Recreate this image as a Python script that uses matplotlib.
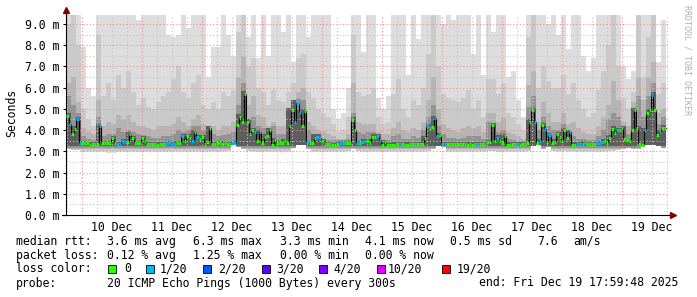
import numpy as np
from matplotlib import pyplot as plt, patches

# ---- data (x in days since 9 Dec 00:00, y in ms) ----
start_day = 0.7333
day_labels = ['10 Dec', '11 Dec', '12 Dec', '13 Dec', '14 Dec',
              '15 Dec', '16 Dec', '17 Dec', '18 Dec', '19 Dec']
label_days = [1.5, 2.5, 3.5, 4.5, 5.5, 6.5, 7.5, 8.5, 9.5, 10.5]
ytick_values = [0, 1, 2, 3, 4, 5, 6, 7, 8, 9]
ytick_labels = ['0.0 m', '1.0 m', '2.0 m', '3.0 m', '4.0 m',
                '5.0 m', '6.0 m', '7.0 m', '8.0 m', '9.0 m']

# hourly median rtt
median_ms = [
    4.68, 4.30, 3.80, 4.07, 4.50, 3.40, 3.40, 3.40, 3.38, 3.29, 3.34, 3.34, 3.34, 4.21, 3.38, 3.38, 3.40, 3.40, 3.65, 3.40,
    3.35, 3.35, 3.50, 3.46, 3.46, 3.80, 3.62, 3.38, 3.38, 3.38, 3.64, 3.50, 3.33, 3.33, 3.33, 3.33, 3.32, 3.33, 3.33, 3.33,
    3.38, 3.38, 3.36, 3.36, 3.38, 3.38, 3.70, 3.50, 3.70, 3.65, 3.50, 3.89, 3.67, 3.57, 3.68, 3.34, 3.46, 4.12, 3.35, 3.35,
    3.38, 3.38, 3.35, 3.38, 3.35, 3.35, 3.38, 3.38, 4.24, 4.63, 4.37, 5.70, 4.40, 3.80, 3.99, 3.90, 3.50, 3.90, 3.38, 3.68,
    3.70, 4.02, 3.32, 3.55, 3.40, 3.40, 3.40, 3.50, 3.40, 4.18, 4.96, 4.40, 5.27, 4.84, 4.20, 4.90, 3.43, 3.38, 3.38, 3.62,
    3.68, 3.65, 3.50, 3.34, 3.34, 3.34, 3.30, 3.29, 3.34, 3.38, 3.38, 3.38, 3.38, 3.40, 4.49, 4.02, 3.40, 3.40, 3.45, 3.50,
    3.50, 3.40, 3.68, 3.68, 3.70, 3.52, 3.32, 3.43, 3.30, 3.30, 3.30, 3.32, 3.35, 3.33, 3.33, 3.30, 3.32, 3.35, 3.35, 3.35,
    3.35, 3.35, 3.35, 3.62, 4.18, 4.12, 4.15, 4.55, 3.70, 3.75, 3.35, 3.35, 3.34, 3.34, 3.36, 3.34, 3.34, 3.34, 3.34, 3.36,
    3.32, 3.34, 3.32, 3.36, 3.33, 3.34, 3.36, 3.35, 3.43, 3.43, 4.24, 3.50, 3.65, 3.50, 3.38, 3.70, 3.32, 3.32, 3.34, 3.34,
    3.34, 3.32, 3.34, 3.34, 3.40, 4.40, 4.96, 4.37, 3.38, 3.50, 4.24, 4.05, 3.43, 3.75, 3.41, 3.46, 3.82, 3.68, 3.50, 4.02,
    3.62, 3.92, 3.32, 3.32, 3.34, 3.34, 3.34, 3.38, 3.36, 3.34, 3.34, 3.34, 3.38, 3.40, 3.46, 3.50, 3.41, 3.65, 4.07, 3.84,
    4.02, 4.00, 4.10, 3.57, 3.51, 3.47, 3.98, 4.96, 4.10, 3.33, 3.29, 3.99, 4.80, 4.93, 5.67, 4.96, 3.78, 3.90, 4.12, 4.12,
]
# hours with 1/20 packet loss (all others 0)
loss_1_of_20 = [1, 4, 5, 13, 20, 21, 22, 23, 40, 41, 42, 43, 46, 50, 52, 66, 67, 75, 77,
                91, 92, 93, 96, 100, 101, 109, 110, 116, 118, 119, 124, 125, 133, 144, 147,
                148, 150, 151, 164, 172, 180, 187, 189, 191, 193, 201, 204, 205, 206, 212,
                213, 214, 220, 231, 234, 237]

# 2-hourly smoke (ping spread), outer band to inner band
smoke_top1 = [
    9.5, 9.5, 9.5, 7.9, 6.0, 5.6, 9.5, 9.5, 9.5, 9.5, 9.5, 9.5, 9.5, 9.5, 9.2, 9.5, 9.5, 9.5, 9.5, 9.5,
    8.5, 8.4, 8.5, 9.5, 8.8, 9.5, 9.5, 9.5, 6.5, 7.9, 7.9, 9.5, 8.5, 7.5, 9.5, 9.5, 8.4, 9.5, 7.4, 9.5,
    7.5, 9.5, 9.5, 8.6, 9.5, 7.2, 9.5, 9.5, 8.4, 9.5, 9.5, 9.5, 9.5, 5.0, 4.5, 4.8, 6.0, 9.5, 9.5, 7.7,
    9.5, 9.5, 5.5, 5.0, 5.6, 9.5, 9.5, 9.5, 6.6, 9.5, 8.3, 9.5, 9.5, 9.5, 9.5, 9.0, 9.5, 9.2, 9.5, 9.5,
    9.5, 7.6, 9.5, 6.6, 9.5, 8.6, 9.5, 9.5, 6.5, 6.8, 5.4, 4.6, 9.5, 9.5, 9.5, 9.5, 9.0, 9.5, 8.5, 9.5,
    7.8, 9.5, 9.5, 7.5, 6.8, 7.4, 9.5, 9.5, 9.5, 9.5, 9.5, 7.0, 6.4, 6.8, 9.5, 9.5, 9.5, 9.5, 7.2, 9.2,
]
smoke_top2 = [
    9.0, 9.5, 8.0, 5.0, 4.5, 4.2, 8.5, 5.6, 6.2, 5.4, 6.6, 6.0, 6.8, 5.8, 5.2, 5.5, 5.1, 5.0, 5.3, 5.6,
    5.8, 6.4, 7.0, 5.8, 5.5, 6.2, 6.6, 5.2, 5.0, 5.3, 5.0, 5.8, 5.6, 5.9, 8.6, 9.5, 7.0, 7.4, 6.0, 5.8,
    5.2, 5.9, 5.4, 5.3, 5.8, 6.2, 7.4, 7.6, 5.8, 5.5, 5.0, 4.8, 4.6, 4.3, 3.9, 4.0, 4.6, 8.5, 5.8, 5.6,
    5.7, 6.0, 4.6, 4.3, 4.4, 5.7, 6.4, 5.0, 4.6, 5.4, 5.2, 6.0, 7.6, 9.5, 7.0, 5.7, 5.5, 5.4, 5.3, 5.5,
    5.9, 5.0, 5.4, 4.6, 6.4, 6.4, 5.7, 6.2, 4.8, 4.6, 4.3, 4.0, 8.4, 9.5, 6.0, 7.0, 6.3, 6.0, 6.0, 6.6,
    5.7, 6.2, 5.4, 5.0, 4.6, 4.8, 5.9, 6.8, 8.0, 9.5, 7.0, 5.5, 5.0, 5.8, 9.5, 6.5, 8.4, 9.5, 5.7, 6.2,
]
smoke_top3 = [
    6.2, 6.5, 5.3, 4.1, 3.9, 3.8, 5.4, 4.2, 4.4, 4.3, 4.7, 4.5, 4.7, 4.4, 4.2, 4.2, 4.1, 4.0, 4.2, 4.2,
    4.2, 4.3, 4.6, 4.4, 4.2, 4.5, 4.7, 4.3, 4.2, 4.2, 4.0, 4.2, 4.2, 4.4, 6.5, 7.5, 5.2, 5.6, 4.7, 4.6,
    4.2, 4.4, 4.2, 4.2, 4.8, 5.3, 5.8, 6.0, 4.4, 4.2, 4.0, 3.9, 3.8, 3.7, 3.6, 3.6, 3.8, 6.2, 4.4, 4.3,
    4.3, 4.3, 3.9, 3.8, 3.8, 4.1, 4.4, 4.0, 3.9, 4.1, 4.0, 4.4, 5.4, 6.5, 5.0, 4.3, 4.1, 4.0, 3.9, 4.1,
    4.2, 4.1, 4.2, 3.9, 4.8, 4.8, 4.4, 4.6, 3.9, 3.8, 3.7, 3.6, 6.1, 6.8, 4.4, 5.3, 4.8, 4.4, 4.4, 4.8,
    4.3, 4.4, 4.1, 3.9, 3.8, 3.8, 4.2, 4.6, 5.2, 6.3, 5.4, 4.4, 4.2, 5.3, 6.5, 5.4, 6.5, 7.2, 4.8, 5.0,
]
smoke_top4 = [
    5.6, 5.2, 4.8, 3.7, 3.6, 3.55, 4.6, 3.7, 3.8, 3.8, 4.1, 3.9, 4.0, 3.9, 3.8, 3.75, 3.7, 3.65, 3.65, 3.7,
    3.7, 3.8, 4.0, 3.9, 4.0, 4.2, 4.2, 4.0, 4.2, 3.8, 3.7, 3.75, 3.8, 3.9, 5.2, 6.2, 4.5, 4.6, 4.2, 4.1,
    3.9, 4.2, 3.8, 3.8, 4.2, 5.1, 5.5, 5.4, 4.0, 3.8, 3.8, 3.6, 3.55, 3.55, 3.55, 3.55, 3.6, 4.8, 3.9, 3.8,
    3.9, 3.9, 3.6, 3.55, 3.55, 3.7, 3.8, 3.6, 3.6, 3.7, 3.65, 4.0, 4.6, 5.2, 4.2, 3.8, 3.65, 3.65, 3.6, 3.65,
    3.7, 3.7, 3.7, 3.6, 4.4, 4.2, 3.9, 4.0, 3.6, 3.55, 3.5, 3.5, 5.1, 5.6, 4.0, 4.6, 4.2, 4.0, 4.0, 4.3,
    3.9, 3.7, 3.6, 3.6, 3.55, 3.55, 3.7, 4.0, 4.5, 4.8, 4.6, 4.0, 3.8, 4.8, 5.6, 4.6, 5.6, 6.2, 4.3, 4.6,
]
smoke_top5 = [
    4.8, 4.2, 4.6, 3.5, 3.45, 3.45, 4.3, 3.5, 3.5, 3.7, 3.45, 3.6, 3.9, 3.7, 3.5, 3.7, 3.45, 3.45, 3.45, 3.45,
    3.5, 3.48, 3.5, 3.8, 3.8, 4.0, 3.78, 3.78, 4.2, 3.45, 3.5, 3.5, 3.45, 3.5, 4.75, 5.85, 4.5, 4.1, 4.0, 3.8,
    4.1, 3.65, 3.5, 3.6, 5.05, 5.4, 4.95, 5.0, 3.5, 3.8, 3.8, 3.6, 3.45, 3.4, 3.5, 3.5, 3.5, 4.6, 3.5, 3.6,
    3.6, 3.8, 3.8, 3.55, 3.4, 3.42, 3.45, 3.45, 3.45, 3.45, 3.45, 3.72, 4.3, 4.65, 3.85, 3.45, 3.45, 3.45, 3.45, 3.45,
    3.45, 3.45, 3.45, 3.45, 3.55, 4.35, 3.75, 3.8, 3.42, 3.45, 3.45, 3.45, 4.5, 5.05, 3.6, 4.35, 3.85, 3.56, 3.92, 4.1,
    4.0, 3.42, 3.45, 3.48, 3.46, 3.45, 3.5, 3.6, 3.75, 4.17, 4.1, 4.2, 3.6, 5.05, 4.2, 4.1, 5.0, 5.8, 4.0, 4.22,
]
smoke_low = [
    3.1, 3.05, 3.05, 2.95, 2.95, 2.95, 2.95, 2.95, 2.9, 2.9, 2.95, 2.95, 2.95, 2.95, 2.95, 2.95, 2.95, 2.95, 2.95, 2.95,
    2.95, 2.95, 2.95, 2.95, 2.95, 2.95, 2.95, 2.95, 2.95, 2.95, 2.95, 2.95, 3.0, 3.3, 3.2, 3.1, 3.0, 2.95, 2.95, 2.95,
    2.95, 2.95, 2.95, 2.95, 2.95, 3.15, 3.3, 3.3, 3.1, 2.95, 2.95, 2.95, 2.95, 2.95, 2.95, 2.95, 3.0, 3.1, 3.0, 2.95,
    2.95, 2.95, 2.95, 2.95, 2.95, 2.95, 2.95, 2.95, 2.95, 2.95, 2.95, 2.95, 3.0, 3.1, 3.25, 3.2, 2.95, 2.95, 2.95, 2.95,
    2.95, 2.95, 2.95, 2.95, 3.0, 3.0, 2.95, 2.95, 2.95, 2.95, 2.95, 2.95, 3.0, 3.25, 3.3, 3.1, 3.2, 3.0, 2.95, 3.0,
    2.95, 2.95, 2.95, 2.95, 2.95, 2.95, 2.95, 2.95, 3.0, 3.0, 3.05, 3.1, 3.15, 3.1, 3.1, 3.3, 3.3, 3.3, 3.25, 3.15,
]
band_floors = [3.03, 3.1, 3.17, 3.24]
band_colors = ['#cacaca', '#b4b4b4', '#939393', '#5e5e5e']

legend_rows = [
    [('median rtt:', 16), ('3.6 ms avg', 107), ('6.3 ms max', 193), ('3.3 ms min', 280),
     ('4.1 ms now', 365), ('0.5 ms sd', 450), ('7.6', 537), ('am/s', 573)],
    [('packet loss:', 16), ('0.12 % avg', 107), ('1.25 % max', 193), ('0.00 % min', 280),
     ('0.00 % now', 365)],
    [('loss color:', 16)],
    [('probe:', 16), ('20 ICMP Echo Pings (1000 Bytes) every 300s', 107),
     ('end: Fri Dec 19 17:59:48 2025', 479)],
]
legend_y = [241.5, 255.5, 269, 283]
loss_names = ['0', '1/20', '2/20', '3/20', '4/20', '10/20', '19/20']
loss_colors = ['#26ff00', '#00b8ff', '#0059ff', '#5e00ff', '#7e00ff', '#dd00ff', '#ff0000']
loss_box_x = [108, 146, 203, 262, 319, 377, 442]
loss_text_x = [124, 160, 218, 276, 333, 388, 457]

W, H = 697, 297
MONO = 'DejaVu Sans Mono'
FS = 8.3


def fx(x):
    return x / W


def fy(y):
    return 1 - y / H


fig = plt.figure(figsize=(W / 100, H / 100), dpi=100)
fig.patch.set_facecolor('white')
ax = fig.add_axes([fx(66), fy(215), (668 - 66) / W, 200 / H])
x_end = start_day + 602 / 60
ax.set_xlim(start_day, x_end)
ax.set_ylim(0, 9.42)

# smoke
t_sm = start_day + np.arange(len(smoke_top1) + 1) / 12


def ext(a):
    a = np.asarray(a, dtype=float)
    return np.append(a, a[-1])


low = np.asarray(smoke_low)
ax.fill_between(t_sm, ext(low), ext(smoke_top1), step='post', color='#dddddd', lw=0, zorder=1)
for top, floor, c in zip([smoke_top2, smoke_top3, smoke_top4, smoke_top5], band_floors, band_colors):
    ax.fill_between(t_sm, ext(np.maximum(low, floor)), ext(top), step='post',
                    color=c, lw=0, zorder=1)

# grid
for d in range(1, 11):
    ax.axvline(d, color='#e89090', lw=0.8, ls=(0, (1, 2)), zorder=2)
for q in np.arange(0.75, 10.76, 0.25):
    if abs(q - round(q)) > 0.01:
        ax.axvline(q, color='#c4c4c4', lw=0.8, ls=(0, (1, 2)), zorder=2)
for v in range(1, 10):
    ax.axhline(v, color='#e89090', lw=0.8, ls=(0, (1, 2)), zorder=2)
    ax.axhline(v - 0.5, color='#c4c4c4', lw=0.8, ls=(0, (1, 2)), zorder=2)

# median
med = np.asarray(median_ms)
t_med = start_day + np.arange(len(med) + 1) / 24
ax.step(t_med, ext(med), where='post', color='#000000', lw=0.8, zorder=4)
med_colors = [loss_colors[1] if i in loss_1_of_20 else loss_colors[0] for i in range(len(med))]
ax.hlines(med, t_med[:-1], t_med[1:], colors=med_colors, lw=2.3, zorder=5)

# axes
for s in ['top', 'right']:
    ax.spines[s].set_visible(False)
for s in ['left', 'bottom']:
    ax.spines[s].set_color('#000000')
    ax.spines[s].set_linewidth(0.8)
ax.plot([0, 0], [1, 1.02], transform=ax.transAxes, clip_on=False, color='#000000', lw=0.8)
ax.plot([1, 1.008], [0, 0], transform=ax.transAxes, clip_on=False, color='#000000', lw=0.8)
ax.plot([-0.006, 0], [0, 0], transform=ax.transAxes, clip_on=False, color='#000000', lw=0.8)
ax.plot([0], [1.025], marker='^', ms=4.5, color='#7f0000', transform=ax.transAxes, clip_on=False)
ax.plot([1.008], [0], marker='>', ms=4.5, color='#7f0000', transform=ax.transAxes, clip_on=False)

ax.set_yticks(ytick_values)
ax.set_yticklabels(ytick_labels, family=MONO, fontsize=FS)
ax.tick_params(axis='y', length=2.5, width=0.8, pad=2)
ax.set_xticks(label_days)
ax.set_xticklabels(day_labels, family=MONO, fontsize=FS)
ax.tick_params(axis='x', length=0, pad=4)

fig.text(fx(12), fy(113), 'Seconds', rotation=90, family=MONO, fontsize=FS,
         ha='center', va='center')
fig.text(fx(687), fy(5), 'RRDTOOL / TOBI OETIKER', rotation=270, family=MONO,
         fontsize=6, color='#b0b0b0', ha='center', va='top')

# legend
for row, yy in zip(legend_rows, legend_y):
    for txt, xx in row:
        fig.text(fx(xx), fy(yy), txt, family=MONO, fontsize=FS, ha='left', va='center')
for name, c, bx, tx in zip(loss_names, loss_colors, loss_box_x, loss_text_x):
    fig.add_artist(patches.Rectangle((fx(bx), fy(273)), 7.5 / W, 8 / H, facecolor=c,
                                     edgecolor='#000000', lw=0.6, transform=fig.transFigure))
    fig.text(fx(tx), fy(269), name, family=MONO, fontsize=FS, ha='left', va='center')

fig.savefig('out.png', dpi=100)
